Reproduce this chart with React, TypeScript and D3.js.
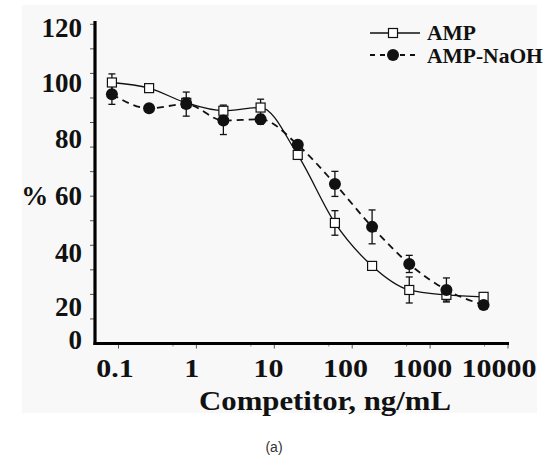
import React from "react";
import * as d3 from "d3";

// competitor concentrations (ng/mL), 3-fold dilution series
const concentrations = [0.0823, 0.247, 0.741, 2.22, 6.67, 20, 60, 180, 540, 1620, 4860];
const ampValues = [96.3, 94.0, 88.0, 84.8, 86.1, 66.8, 39.1, 21.6, 11.8, 9.8, 9.0];
const ampErrors = [3.5, 1.2, 2.0, 2.3, 3.4, 1.0, 5.0, 1.5, 5.3, 2.5, 1.0];
const naohValues = [91.5, 85.8, 87.5, 80.8, 81.3, 70.9, 55.0, 37.5, 22.4, 11.8, 5.7];
const naohErrors = [4.1, 0.8, 4.9, 5.7, 2.0, 1.0, 5.1, 6.9, 3.5, 4.9, 0];

const seriesNames = ["AMP", "AMP-NaOH"];
const xTickValues = [0.1, 1, 10, 100, 1000, 10000];
const xTickLabels = ["0.1", "1", "10", "100", "1000", "10000"];
const xMinorValues = [0.5, 5, 50, 500, 5000];
const yTickValues = d3.range(0, 121, 10);
const yLabelValues = [120, 100, 80, 60, 40, 20, 0];
const yLabels = ["120", "100", "80", "% 60", "40", "20", "0"];
const xTitle = "Competitor, ng/mL";
const caption = "(a)";

const W = 550;
const H = 458;
const axisX = 95;
const axisY = 343.5;
const serif = "'Liberation Serif', 'Times New Roman', serif";

export default function App() {
  const x = d3.scaleLog().domain([0.1, 10000]).range([118.5, 508]);
  const y = d3.scaleLinear().domain([-10, 120]).range([axisY, 24.3]);
  // the label positions of the original figure drift away from the ticks
  const labelY = d3.scaleLinear().domain([0, 20, 40, 60, 80, 100, 120]).range([349, 316, 262, 205, 148, 92, 37]);
  const labelX = d3.scaleLog().domain([0.1, 10000]).range([115, 499]);

  const line = d3
    .line<number>()
    .x((d, i) => x(concentrations[i]))
    .y(d => y(d))
    .curve(d3.curveMonotoneX);

  const errorBars = (vals: number[], errs: number[], key: string) =>
    vals.map((v, i) => {
      if (!errs[i]) return null;
      const cx = x(concentrations[i]);
      const y0 = y(v - errs[i]);
      const y1 = y(v + errs[i]);
      return (
        <g key={key + i} stroke="#111" strokeWidth={1.3}>
          <line x1={cx} x2={cx} y1={y0} y2={y1} />
          <line x1={cx - 3.5} x2={cx + 3.5} y1={y0} y2={y0} />
          <line x1={cx - 3.5} x2={cx + 3.5} y1={y1} y2={y1} />
        </g>
      );
    });

  return (
    <svg
      width={W}
      height={H}
      style={{ position: "absolute", left: 0, top: 0, display: "block", background: "#fff" }}
    >
      <rect x={22} y={5} width={515} height={408} fill="#f8f8f8" />

      {/* y ticks */}
      {yTickValues.map(v => (
        <line key={"yt" + v} x1={axisX - 5} x2={axisX} y1={y(v)} y2={y(v)} stroke="#555" strokeWidth={1} />
      ))}
      {yLabelValues.map((v, i) => (
        <text
          key={"yl" + v}
          x={82}
          y={labelY(v)}
          textAnchor="end"
          fontFamily={serif}
          fontWeight="bold"
          fontSize={27}
          fill="#111"
        >
          {yLabels[i]}
        </text>
      ))}

      {/* x ticks */}
      {xTickValues.map(v => (
        <line key={"xt" + v} x1={x(v)} x2={x(v)} y1={axisY} y2={axisY + 5} stroke="#555" strokeWidth={1} />
      ))}
      {xMinorValues.map(v => (
        <line key={"xm" + v} x1={x(v)} x2={x(v)} y1={axisY} y2={axisY + 3} stroke="#888" strokeWidth={1} />
      ))}
      {xTickValues.map((v, i) => (
        <text
          key={"xl" + v}
          transform={`translate(${labelX(v)},377) scale(1.2,1)`}
          textAnchor="middle"
          fontFamily={serif}
          fontWeight="bold"
          fontSize={25}
          fill="#111"
        >
          {xTickLabels[i]}
        </text>
      ))}

      {/* axes */}
      <line x1={axisX} x2={axisX} y1={21} y2={axisY + 1.5} stroke="#000" strokeWidth={3.2} />
      <line x1={axisX - 1.5} x2={x(10000) + 1} y1={axisY} y2={axisY} stroke="#000" strokeWidth={3.2} />

      <text
        transform="translate(325,410) scale(1.14,1)"
        textAnchor="middle"
        fontFamily={serif}
        fontWeight="bold"
        fontSize={27}
        fill="#111"
      >
        {xTitle}
      </text>

      {/* series lines */}
      <path d={line(ampValues) || ""} fill="none" stroke="#111" strokeWidth={1.3} />
      <path d={line(naohValues) || ""} fill="none" stroke="#111" strokeWidth={1.8} strokeDasharray="7,5" />

      {errorBars(ampValues, ampErrors, "ea")}
      {errorBars(naohValues, naohErrors, "en")}

      {ampValues.map((v, i) => (
        <rect
          key={"sq" + i}
          x={x(concentrations[i]) - 4.5}
          y={y(v) - 4.5}
          width={9}
          height={9}
          fill="#fff"
          stroke="#111"
          strokeWidth={1.2}
        />
      ))}
      {naohValues.map((v, i) => (
        <circle key={"ci" + i} cx={x(concentrations[i])} cy={y(v)} r={6} fill="#111" />
      ))}

      {/* legend */}
      <g>
        <line x1={370} x2={420} y1={33} y2={33} stroke="#111" strokeWidth={1.3} />
        <rect x={388.5} y={28.5} width={9} height={9} fill="#fff" stroke="#111" strokeWidth={1.2} />
        <text x={427} y={39.5} fontFamily={serif} fontWeight="bold" fontSize={21.5} fill="#111">
          {seriesNames[0]}
        </text>
        <line x1={370} x2={420} y1={55} y2={55} stroke="#111" strokeWidth={1.8} strokeDasharray="5,5" />
        <circle cx={393} cy={55} r={6} fill="#111" />
        <text x={427} y={63} fontFamily={serif} fontWeight="bold" fontSize={21.5} fill="#111">
          {seriesNames[1]}
        </text>
      </g>

      <text x={274} y={452} textAnchor="middle" fontFamily="'Liberation Sans', Arial, sans-serif" fontSize={14} fill="#333">
        {caption}
      </text>
    </svg>
  );
}
